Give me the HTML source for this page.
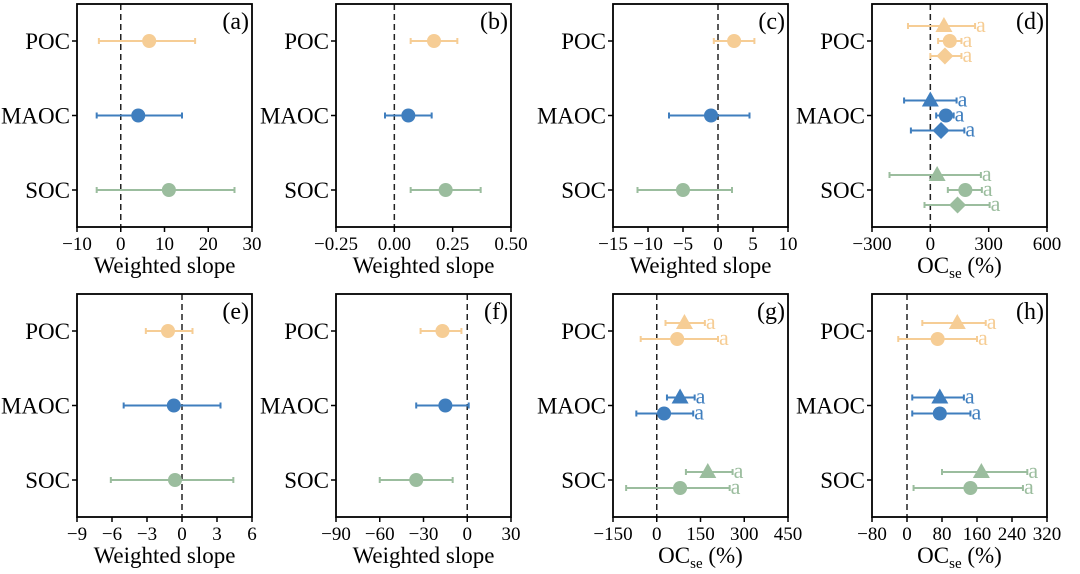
<!DOCTYPE html>
<html><head><meta charset="utf-8">
<style>
html,body{margin:0;padding:0;background:#fff;}
svg, svg text{font-family:"Liberation Serif","DejaVu Serif",serif;}
</style></head>
<body>
<svg id="chart" width="1080" height="569" viewBox="0 0 1080 569" xmlns="http://www.w3.org/2000/svg" font-family="Liberation Serif, serif"></svg>
<script>
// categories
const categories = ["POC","MAOC","SOC"];
const colors = {POC:"#f6cd95", MAOC:"#3f7ebe", SOC:"#9bbd9e"};
// panel (a)
const aMean = [6.5, 4, 11];
const aLow = [-5, -5.5, -5.5];
const aHigh = [17, 14, 26];
const aTicks = [-10, 0, 10, 20, 30];
// panel (b)
const bMean = [0.17, 0.06, 0.22];
const bLow = [0.07, -0.04, 0.07];
const bHigh = [0.27, 0.16, 0.37];
const bTicks = [-0.25, 0, 0.25, 0.5];
const bTickLabels = ["\u22120.25", "0.00", "0.25", "0.50"];
// panel (c)
const cMean = [2.3, -1, -5];
const cLow = [-0.6, -7, -11.5];
const cHigh = [5.2, 4.5, 2];
const cTicks = [-15, -10, -5, 0, 5, 10];
// panel (d): triangle, circle, diamond
const dTriMean = [70, 0, 35];
const dTriLow = [-115, -135, -210];
const dTriHigh = [230, 135, 260];
const dCirMean = [100, 80, 180];
const dCirLow = [40, 30, 90];
const dCirHigh = [160, 120, 265];
const dDiaMean = [75, 55, 140];
const dDiaLow = [0, -100, -30];
const dDiaHigh = [160, 175, 305];
const dTicks = [-300, 0, 300, 600];
// panel (e)
const eMean = [-1.2, -0.7, -0.6];
const eLow = [-3.1, -5, -6.1];
const eHigh = [0.9, 3.3, 4.4];
const eTicks = [-9, -6, -3, 0, 3, 6];
// panel (f)
const fMean = [-17, -15, -35];
const fLow = [-32, -35, -60];
const fHigh = [-4, 1, -10];
const fTicks = [-90, -60, -30, 0, 30];
// panel (g): triangle, circle
const gTriMean = [95, 80, 175];
const gTriLow = [30, 35, 100];
const gTriHigh = [165, 130, 260];
const gCirMean = [70, 25, 80];
const gCirLow = [-55, -70, -105];
const gCirHigh = [210, 125, 250];
const gTicks = [-150, 0, 150, 300, 450];
// panel (h): triangle, circle
const hTriMean = [115, 75, 170];
const hTriLow = [35, 12, 80];
const hTriHigh = [180, 130, 275];
const hCirMean = [70, 75, 145];
const hCirLow = [-20, 12, 15];
const hCirHigh = [160, 145, 265];
const hTicks = [-80, 0, 80, 160, 240, 320];

const NS = "http://www.w3.org/2000/svg";
const svg = document.getElementById("chart");
const FONT = "Liberation Serif, DejaVu Serif, serif";
function mk(tag, attrs, parent){
  const e = document.createElementNS(NS, tag);
  for (const k in attrs) e.setAttribute(k, attrs[k]);
  if (tag === "text") e.setAttribute("font-family", FONT);
  (parent||svg).appendChild(e);
  return e;
}
function fmt(v){ return v<0 ? "\u2212"+Math.abs(v) : String(v); }

const panels = [
  {id:"a", x0:77, top:4, xmin:-10, xmax:30, ticks:aTicks, xlabel:"slope",
   series:[{shape:"circle", mean:aMean, low:aLow, high:aHigh, off:0}]},
  {id:"b", x0:336, top:4, xmin:-0.25, xmax:0.5, ticks:bTicks, tickLabels:bTickLabels, xlabel:"slope",
   series:[{shape:"circle", mean:bMean, low:bLow, high:bHigh, off:0}]},
  {id:"c", x0:613, top:4, xmin:-15, xmax:10, ticks:cTicks, xlabel:"slope",
   series:[{shape:"circle", mean:cMean, low:cLow, high:cHigh, off:0}]},
  {id:"d", x0:872, top:4, xmin:-300, xmax:600, ticks:dTicks, xlabel:"oc",
   series:[{shape:"triangle", mean:dTriMean, low:dTriLow, high:dTriHigh, off:-15, letter:true},
            {shape:"circle", mean:dCirMean, low:dCirLow, high:dCirHigh, off:0, letter:true},
            {shape:"diamond", mean:dDiaMean, low:dDiaLow, high:dDiaHigh, off:15, letter:true}]},
  {id:"e", x0:77, top:294, xmin:-9, xmax:6, ticks:eTicks, xlabel:"slope",
   series:[{shape:"circle", mean:eMean, low:eLow, high:eHigh, off:0}]},
  {id:"f", x0:336, top:294, xmin:-90, xmax:30, ticks:fTicks, xlabel:"slope",
   series:[{shape:"circle", mean:fMean, low:fLow, high:fHigh, off:0}]},
  {id:"g", x0:613, top:294, xmin:-150, xmax:450, ticks:gTicks, xlabel:"oc",
   series:[{shape:"triangle", mean:gTriMean, low:gTriLow, high:gTriHigh, off:-8, letter:true},
            {shape:"circle", mean:gCirMean, low:gCirLow, high:gCirHigh, off:8, letter:true}]},
  {id:"h", x0:872, top:294, xmin:-80, xmax:320, ticks:hTicks, xlabel:"oc",
   series:[{shape:"triangle", mean:hTriMean, low:hTriLow, high:hTriHigh, off:-8, letter:true},
            {shape:"circle", mean:hCirMean, low:hCirLow, high:hCirHigh, off:8, letter:true}]}
];

const W = 175, H = 223;
panels.forEach(p => {
  const g = mk("g", {});
  
  
  const x = v => p.x0 + (v - p.xmin) / (p.xmax - p.xmin) * W;
  const yc = i => p.top + 37 + i * 74.5;
  const bottom = p.top + H;
  const z = mk("line", {x1:x(0), x2:x(0), y1:p.top, y2:bottom, stroke:"#222", "stroke-width":1.5, "stroke-dasharray":"6,4"}, g);
  
  
  p.series.forEach(s => {
    categories.forEach((cat, i) => {
      const col = colors[cat];
      const y = yc(i) + s.off;
      const xl = x(s.low[i]), xh = x(s.high[i]), xm = x(s.mean[i]);
      const eb = mk("g", {}, g);
      
      
      mk("line", {x1:xl, x2:xh, y1:y, y2:y, stroke:col, "stroke-width":2}, eb);
      mk("line", {x1:xl, x2:xl, y1:y-3, y2:y+3, stroke:col, "stroke-width":2}, eb);
      mk("line", {x1:xh, x2:xh, y1:y-3, y2:y+3, stroke:col, "stroke-width":2}, eb);
      let m;
      if (s.shape === "circle") m = mk("circle", {cx:xm, cy:y, r:7, fill:col}, g);
      else if (s.shape === "triangle") m = mk("polygon", {points:`${xm},${y-9} ${xm-8.5},${y+6} ${xm+8.5},${y+6}`, fill:col}, g);
      else m = mk("polygon", {points:`${xm},${y-8.5} ${xm+8.5},${y} ${xm},${y+8.5} ${xm-8.5},${y}`, fill:col}, g);
      
      
      if (s.letter) {
        const t = mk("text", {x:xh+1, y:y+6, "font-size":22, fill:col}, g);
        t.textContent = "a";
        
        
      }
    });
  });
  const fr = mk("rect", {x:p.x0, y:p.top, width:W, height:H, fill:"none", stroke:"#000", "stroke-width":1.8}, g);
  
  
  categories.forEach((cat, i) => {
    mk("line", {x1:p.x0-5, x2:p.x0, y1:yc(i), y2:yc(i), stroke:"#000", "stroke-width":1.5}, g);
    const t = mk("text", {x:p.x0-7, y:yc(i)+8, "font-size":23, "text-anchor":"end", fill:"#000"}, g);
    t.textContent = cat;
    
    
  });
  p.ticks.forEach((v, k) => {
    mk("line", {x1:x(v), x2:x(v), y1:bottom, y2:bottom+5, stroke:"#000", "stroke-width":1.5}, g);
    const t = mk("text", {x:x(v), y:bottom+23, "font-size":19, "text-anchor":"middle", fill:"#000"}, g);
    t.textContent = p.tickLabels ? p.tickLabels[k] : fmt(v);
    
    
  });
  const xl = mk("text", {x:p.x0+W/2, y:bottom+46, "font-size":23, "text-anchor":"middle", fill:"#000"}, g);
  if (p.xlabel === "slope") xl.textContent = "Weighted slope";
  else {
    const t1 = mk("tspan", {}, xl); t1.textContent = "OC";
    const t2 = mk("tspan", {"font-size":15, dy:5}, xl); t2.textContent = "se";
    const t3 = mk("tspan", {dy:-5}, xl); t3.textContent = " (%)";
  }
  
  
  const pl = mk("text", {x:p.x0+W-3, y:p.top+25, "font-size":24, "text-anchor":"end", fill:"#000"}, g);
  pl.textContent = "(" + p.id + ")";
  
  
});
</script>
</body></html>
